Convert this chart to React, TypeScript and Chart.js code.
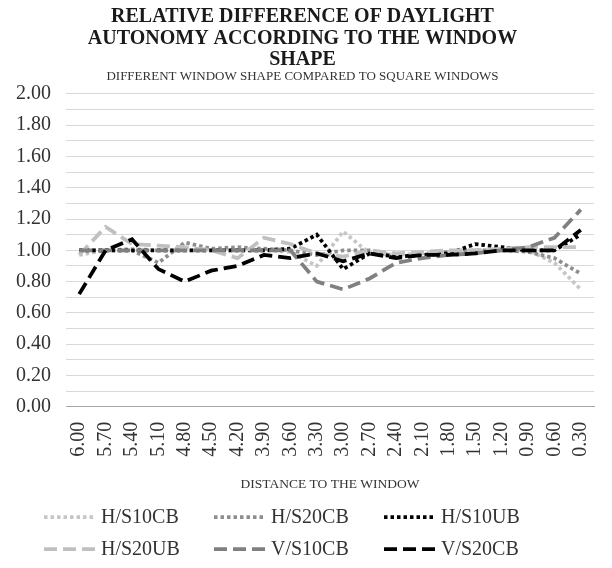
import React, { useEffect, useRef } from "react";
import { Chart, registerables } from "chart.js";

Chart.register(...registerables);

const titleLines = [
  "RELATIVE DIFFERENCE OF DAYLIGHT",
  "AUTONOMY ACCORDING TO THE WINDOW",
  "SHAPE",
];
const subtitleText = "DIFFERENT WINDOW SHAPE COMPARED TO SQUARE WINDOWS";
const xAxisTitle = "DISTANCE TO THE WINDOW";

const distances = [
  "6.00", "5.70", "5.40", "5.10", "4.80", "4.50", "4.20", "3.90", "3.60", "3.30",
  "3.00", "2.70", "2.40", "2.10", "1.80", "1.50", "1.20", "0.90", "0.60", "0.30",
];

const hS10CB = [0.97, 1.0, 1.01, 1.0, 1.0, 1.0, 1.0, 1.0, 0.99, 0.9, 1.12, 0.98, 0.97, 0.98, 0.99, 1.0, 1.0, 1.0, 0.92, 0.75];
const hS20CB = [1.0, 1.0, 1.0, 0.92, 1.05, 1.01, 1.02, 1.01, 1.0, 0.97, 1.0, 1.0, 0.96, 0.97, 0.99, 1.0, 1.0, 0.99, 0.95, 0.85];
const hS10UB = [1.0, 1.0, 1.0, 1.0, 1.0, 1.0, 1.0, 1.0, 1.01, 1.1, 0.88, 0.98, 0.96, 0.97, 0.98, 1.04, 1.02, 1.0, 1.0, 1.1];
const hS20UB = [0.97, 1.15, 1.04, 1.03, 1.02, 1.0, 0.95, 1.08, 1.04, 0.98, 0.96, 1.0, 0.98, 0.99, 1.0, 1.0, 1.01, 1.02, 1.02, 1.02];
const vS10CB = [1.0, 1.0, 1.0, 1.0, 1.0, 1.0, 1.0, 1.0, 1.0, 0.8, 0.75, 0.82, 0.92, 0.95, 0.97, 0.98, 1.0, 1.02, 1.08, 1.26];
const vS20CB = [0.72, 1.0, 1.07, 0.88, 0.8, 0.87, 0.9, 0.97, 0.95, 0.98, 0.93, 0.98, 0.95, 0.97, 0.97, 0.98, 1.0, 1.0, 1.0, 1.13];

const seriesNames = ["H/S10CB", "H/S20CB", "H/S10UB", "H/S20UB", "V/S10CB", "V/S20CB"];
const seriesValues = [hS10CB, hS20CB, hS10UB, hS20UB, vS10CB, vS20CB];
const seriesColors = ["#c6c6c6", "#8e8e8e", "#000000", "#c0c0c0", "#808080", "#000000"];
const DOT = [3.5, 3];
const DASH = [13, 6];
const seriesDashes = [DOT, DOT, DOT, DASH, DASH, DASH];

const FONT = "'Liberation Serif', 'Times New Roman', serif";
const LEGEND_FONT_SIZE = 20;

// Legend laid out as a 3-column grid below the axis title
const gridLegend = {
  id: "gridLegend",
  afterDraw(chart: any) {
    const ctx = chart.ctx as CanvasRenderingContext2D;
    const colStride = 170;
    const symbolW = 52;
    const textGap = 5;
    const rowStride = 32;
    const x0 = chart.width / 2 - 262;
    const y0 = chart.height - 51;
    ctx.save();
    ctx.font = `${LEGEND_FONT_SIZE}px ${FONT}`;
    ctx.textBaseline = "middle";
    ctx.textAlign = "left";
    chart.data.datasets.forEach((ds: any, i: number) => {
      const col = i % 3;
      const row = Math.floor(i / 3);
      const x = x0 + col * colStride;
      const y = y0 + row * rowStride;
      ctx.beginPath();
      ctx.setLineDash(ds.borderDash || []);
      ctx.lineWidth = ds.borderWidth;
      ctx.strokeStyle = ds.borderColor;
      ctx.lineCap = "butt";
      ctx.moveTo(x, y);
      ctx.lineTo(x + symbolW, y);
      ctx.stroke();
      ctx.setLineDash([]);
      ctx.fillStyle = "#333333";
      ctx.fillText(ds.label, x + symbolW + textGap, y + 1);
    });
    ctx.restore();
  },
};

export default function App() {
  const ref = useRef<HTMLCanvasElement | null>(null);

  useEffect(() => {
    if (!ref.current) return;
    const chart = new Chart(ref.current, {
      type: "line",
      data: {
        labels: distances,
        datasets: seriesNames.map((name, i) => ({
          label: name,
          data: seriesValues[i],
          borderColor: seriesColors[i],
          backgroundColor: seriesColors[i],
          borderWidth: 3.75,
          borderDash: seriesDashes[i],
          borderCapStyle: "butt" as const,
          pointRadius: 0,
          tension: 0,
          fill: false,
          order: -i,
        })),
      },
      plugins: [gridLegend],
      options: {
        animation: false,
        responsive: true,
        maintainAspectRatio: false,
        layout: { padding: { left: 1, right: 8, top: 6, bottom: 75 } },
        plugins: {
          title: {
            display: true,
            text: titleLines,
            color: "#1a1a1a",
            font: { family: FONT, size: 20, weight: "bold", lineHeight: 1.08 },
            padding: { top: 0, bottom: -1 },
          },
          subtitle: {
            display: true,
            text: subtitleText,
            color: "#333333",
            font: { family: FONT, size: 13, lineHeight: 1.0 },
            padding: { top: 0, bottom: 11 },
          },
          legend: { display: false },
          tooltip: { enabled: false },
        },
        scales: {
          x: {
            offset: true,
            grid: { display: false },
            border: { display: true, color: "#a6a6a6", width: 1 },
            ticks: {
              color: "#333333",
              font: { family: FONT, size: 20 },
              minRotation: 90,
              maxRotation: 90,
              autoSkip: false,
              padding: 7,
            },
            title: {
              display: true,
              text: xAxisTitle,
              color: "#333333",
              font: { family: FONT, size: 13.5, lineHeight: 1.2 },
              padding: { top: 13, bottom: 0 },
            },
          },
          y: {
            min: 0,
            max: 2,
            grid: { color: "#d9d9d9", lineWidth: 1, drawTicks: false },
            border: { display: false },
            ticks: {
              stepSize: 0.1,
              autoSkip: false,
              color: "#333333",
              font: { family: FONT, size: 20 },
              padding: 15,
              callback: (value: any, index: number) =>
                index % 2 === 0 ? Number(value).toFixed(2) : "",
            },
          },
        },
      },
    });
    return () => chart.destroy();
  }, []);

  return (
    <div style={{ position: "absolute", left: 0, top: 0, width: 612, height: 568, background: "#fff" }}>
      <canvas ref={ref} />
    </div>
  );
}
